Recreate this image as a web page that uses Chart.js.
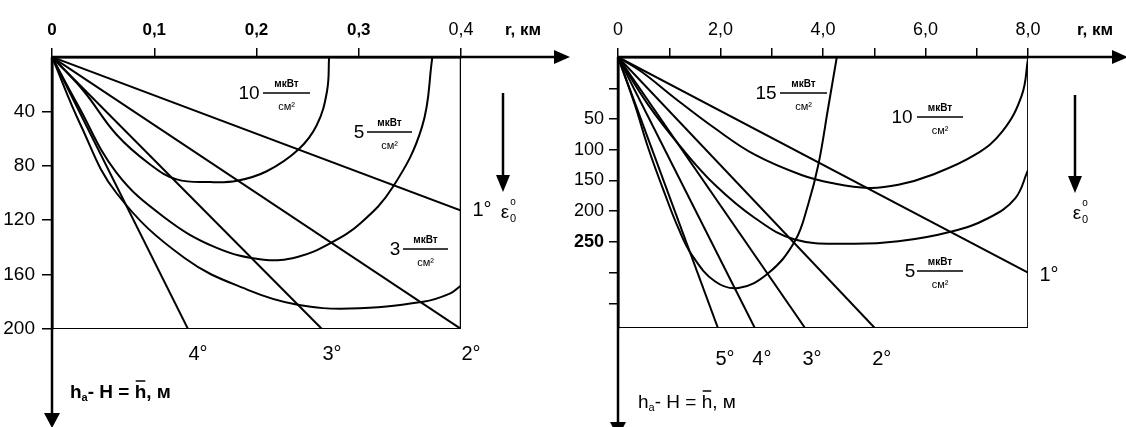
<!DOCTYPE html>
<html>
<head>
<meta charset="utf-8">
<script src="https://cdn.jsdelivr.net/npm/chart.js@4.4.1/dist/chart.umd.min.js"></script>
<style>
  html, body { margin: 0; padding: 0; background: #fff; }
  #wrap { position: relative; width: 1126px; height: 427px; overflow: hidden; }
  canvas { position: absolute; top: 0; }
</style>
</head>
<body>
<div id="wrap">
  <canvas id="left" width="580" height="427" style="left:0"></canvas>
  <canvas id="right" width="563" height="427" style="left:563px"></canvas>
</div>
<script>
// ---- left panel (r up to 0.4 km) ----
const leftRTicks = [0, 0.1, 0.2, 0.3, 0.4];
const leftHTicks = [40, 80, 120, 160, 200];
const leftAngles = ['1°', '2°', '3°', '4°'];
const leftRayEndR = [0.4, 0.4, 0.264, 0.133];
const leftRayEndH = [113, 200, 200, 200];
const leftLevels = ['10', '5', '3'];
const left10R = [0, 0.031, 0.063, 0.096, 0.122, 0.155, 0.181, 0.210, 0.241, 0.259, 0.269, 0.271];
const left10H = [0, 25, 57, 79, 90, 92, 91, 84, 68, 50, 25, 0];
const left5R = [0, 0.025, 0.063, 0.110, 0.160, 0.207, 0.240, 0.272, 0.302, 0.333, 0.362, 0.372];
const left5H = [0, 35, 85, 118, 140, 149, 147, 137, 122, 96, 51, 0];
const left3R = [0, 0.028, 0.063, 0.130, 0.194, 0.239, 0.291, 0.363, 0.389, 0.400];
const left3H = [0, 50, 100, 148, 172, 182, 185, 180, 174, 168];

// ---- right panel (r up to 8 km) ----
const rightRTicks = [0, 1, 2, 3, 4, 5, 6, 7, 8];
const rightHTicks = [0, 50, 100, 150, 200, 250, 300, 350];
const rightAngles = ['1°', '2°', '3°', '4°', '5°'];
const rightRayEndR = [8, 5.01, 3.65, 2.67, 1.95];
const rightRayEndH = [300, 390, 390, 390, 390];
const rightLevels = ['15', '10', '5'];
const right15R = [0, 0.33, 0.59, 0.92, 1.18, 1.44, 1.89, 2.35, 2.93, 3.45, 3.71, 3.91, 4.10, 4.27];
const right15H = [-51, 27, 97, 173, 228, 271, 314, 325, 301, 249, 189, 124, 32, -51];
const right10R = [0, 0.46, 1.11, 1.89, 2.67, 3.58, 4.17, 4.89, 5.47, 6.12, 6.97, 7.5, 7.88, 8.0];
const right10H = [-51, -27, 16, 65, 108, 141, 154, 162, 157, 141, 108, 70, 11, -48];
const right5R = [0, 0.59, 1.24, 1.89, 2.67, 3.45, 4.49, 5.47, 6.51, 7.23, 7.75, 8.0];
const right5H = [-51, 27, 97, 157, 211, 246, 253, 249, 233, 211, 179, 133];

const FONT = '"Liberation Sans", Arial, sans-serif';

function pts(rs, hs) { return rs.map((r, i) => ({ x: r, y: hs[i] })); }

function lineSet(data, w, tension) {
  return { data, showLine: true, borderColor: '#000', borderWidth: w, pointRadius: 0,
           pointHoverRadius: 0, tension: tension || 0, fill: false };
}

function kmLabel(v) {
  return v === 0 ? '0' : v.toFixed(1).replace('.', ',');
}

// arrows, unit labels, contour fractions, angle marks
function makeDeco(p) {
  return {
    id: 'deco',
    afterDraw(chart) {
      const { ctx, chartArea: a, scales: { x, y } } = chart;
      const d = p.deco;
      ctx.save();
      ctx.strokeStyle = '#000';
      ctx.fillStyle = '#000';

      // extended axes with arrowheads
      ctx.lineWidth = 2.5;
      ctx.beginPath();
      ctx.moveTo(a.left, a.top); ctx.lineTo(d.xTip - 10, a.top);
      ctx.moveTo(a.left, a.top); ctx.lineTo(a.left, d.yTip - 10);
      ctx.stroke();
      ctx.beginPath();
      ctx.moveTo(d.xTip, a.top); ctx.lineTo(d.xTip - 16, a.top - 7); ctx.lineTo(d.xTip - 16, a.top + 7);
      ctx.closePath(); ctx.fill();
      ctx.beginPath();
      ctx.moveTo(a.left, d.yTip); ctx.lineTo(a.left - 8, d.yTip - 15); ctx.lineTo(a.left + 8, d.yTip - 15);
      ctx.closePath(); ctx.fill();

      // epsilon arrow
      const e = d.eps;
      ctx.lineWidth = 2.5;
      ctx.beginPath(); ctx.moveTo(e.x, e.top); ctx.lineTo(e.x, e.tip - 12); ctx.stroke();
      ctx.beginPath();
      ctx.moveTo(e.x, e.tip); ctx.lineTo(e.x - 7, e.tip - 17); ctx.lineTo(e.x + 7, e.tip - 17);
      ctx.closePath(); ctx.fill();
      ctx.textAlign = 'center'; ctx.textBaseline = 'middle';
      ctx.font = '19px ' + FONT;
      ctx.fillText('ε', e.lx, e.ly);
      ctx.font = '10px ' + FONT;
      ctx.fillText('o', e.lx + 8, e.ly - 11);
      ctx.font = '11px ' + FONT;
      ctx.fillText('0', e.lx + 8, e.ly + 6);

      // r, km
      ctx.font = 'bold 17px ' + FONT;
      ctx.fillText('r, км', d.rx, d.ry);

      // h label: h_a - H = h(bar), м
      const f = (d.hBold ? 'bold ' : '') + '19px ' + FONT;
      const fs = (d.hBold ? 'bold ' : '') + '11px ' + FONT;
      let hx = d.hx;
      ctx.textAlign = 'left'; ctx.textBaseline = 'alphabetic';
      ctx.font = f; ctx.fillText('h', hx, d.hy); hx += ctx.measureText('h').width;
      ctx.font = fs; ctx.fillText('а', hx, d.hy + 3); hx += ctx.measureText('а').width;
      ctx.font = f; ctx.fillText('- H = ', hx, d.hy); hx += ctx.measureText('- H = ').width;
      const hw = ctx.measureText('h').width;
      ctx.fillText('h', hx, d.hy);
      ctx.lineWidth = 1.5;
      ctx.beginPath(); ctx.moveTo(hx + 1, d.hy - 17); ctx.lineTo(hx + hw - 1, d.hy - 17); ctx.stroke();
      hx += hw;
      ctx.fillText(', м', hx, d.hy);

      // contour fractions
      ctx.textBaseline = 'middle';
      p.levels.forEach((n, i) => {
        const c = d.fracs[i];
        ctx.textAlign = 'center';
        ctx.font = '19px ' + FONT;
        ctx.fillText(n, c.x, c.y + 1);
        ctx.lineWidth = 1.3;
        ctx.beginPath(); ctx.moveTo(c.l0, c.y); ctx.lineTo(c.l1, c.y); ctx.stroke();
        const mid = (c.l0 + c.l1) / 2;
        ctx.font = 'bold 10px ' + FONT;
        ctx.fillText('мкВт', mid, c.y - 8.5);
        ctx.font = '11px ' + FONT;
        ctx.fillText('см²', mid, c.y + 14);
      });

      // angle marks at ray ends
      ctx.font = '20px ' + FONT;
      ctx.textAlign = 'left';
      p.angles.forEach((lab, i) => {
        const r = p.rayEndR[i], h = p.rayEndH[i];
        let cx, cy;
        if (h >= p.hMax) { cx = x.getPixelForValue(r) + d.botDx; cy = a.bottom + d.botDy; }
        else { cx = a.right + 17; cy = y.getPixelForValue(h) + d.edgeDy; }
        const dw = ctx.measureText(lab[0]).width;
        ctx.fillText(lab, cx - dw / 2, cy);
      });
      ctx.restore();
    }
  };
}

function panel(id, p) {
  const datasets = [];
  p.rayEndR.forEach((r, i) => datasets.push(lineSet([{ x: 0, y: p.hMin }, { x: r, y: p.rayEndH[i] }], 2)));
  p.contours.forEach(c => datasets.push(lineSet(pts(c[0], c[1]), 2, 0.4)));
  datasets.push(lineSet([{ x: p.rMax, y: p.hMin }, { x: p.rMax, y: p.hMax }], p.edgeW));
  datasets.push(lineSet([{ x: 0, y: p.hMax }, { x: p.rMax, y: p.hMax }], 2));

  return new Chart(document.getElementById(id), {
    type: 'scatter',
    data: { datasets },
    options: {
      responsive: false,
      animation: false,
      devicePixelRatio: 1,
      events: [],
      layout: { padding: { left: 0, top: 0, right: p.padRight, bottom: p.padBottom } },
      plugins: { legend: { display: false }, tooltip: { enabled: false } },
      scales: {
        x: {
          type: 'linear', position: 'top', min: 0, max: p.rMax,
          afterBuildTicks: s => { s.ticks = p.rTicks.map(v => ({ value: v })); },
          afterFit: s => { s.height = p.top; },
          grid: { display: true, drawOnChartArea: false, drawTicks: true, tickLength: 9, color: '#000', lineWidth: 1.5 },
          border: { display: true, color: '#000', width: 2.5 },
          ticks: { autoSkip: false, maxRotation: 0, padding: 7, color: '#000',
                   font: p.rFont, callback: p.rCallback }
        },
        y: {
          type: 'linear', position: 'left', reverse: true, min: p.hMin, max: p.hMax,
          afterBuildTicks: s => { s.ticks = p.hTicks.map(v => ({ value: v })); },
          afterFit: s => { s.width = p.left; },
          grid: { display: true, drawOnChartArea: false, drawTicks: true, tickLength: p.yTick, color: '#000', lineWidth: 1.5 },
          border: { display: true, color: '#000', width: 2.5 },
          ticks: { autoSkip: false, padding: p.yPad, color: '#000',
                   font: p.hFont, callback: p.hCallback }
        }
      }
    },
    plugins: [makeDeco(p)]
  });
}

panel('left', {
  rMax: 0.4, hMin: 0, hMax: 200,
  rTicks: leftRTicks, hTicks: leftHTicks,
  angles: leftAngles, rayEndR: leftRayEndR, rayEndH: leftRayEndH,
  levels: leftLevels,
  contours: [[left10R, left10H], [left5R, left5H], [left3R, left3H]],
  edgeW: 2.5, top: 57, left: 52, padRight: 119, padBottom: 98, yTick: 10, yPad: 7,
  rFont: c => (c.tick && c.tick.value > 0.35) ? { family: FONT, size: 18 } : { family: FONT, size: 17, weight: 'bold' },
  rCallback: v => kmLabel(v),
  hFont: { family: FONT, size: 19 },
  hCallback: v => String(v),
  deco: {
    xTip: 570, yTip: 428,
    eps: { x: 503, top: 93, tip: 192, lx: 505, ly: 213 },
    rx: 523, ry: 30, hx: 70, hy: 398, hBold: true,
    fracs: [{ x: 249, y: 93, l0: 263, l1: 310 }, { x: 359, y: 132, l0: 367, l1: 412 }, { x: 395, y: 249, l0: 403, l1: 448 }],
    botDx: 6, botDy: 25, edgeDy: 0
  }
});

panel('right', {
  rMax: 8, hMin: -51, hMax: 390,
  rTicks: rightRTicks, hTicks: rightHTicks,
  angles: rightAngles, rayEndR: rightRayEndR, rayEndH: rightRayEndH,
  levels: rightLevels,
  contours: [[right15R, right15H], [right10R, right10H], [right5R, right5H]],
  edgeW: 1.8, top: 57, left: 55, padRight: 98, padBottom: 99, yTick: 9, yPad: 5,
  rFont: { family: FONT, size: 18 },
  rCallback: v => (v % 2 === 0 ? kmLabel(v) : ''),
  hFont: c => (c.tick && c.tick.value === 250) ? { family: FONT, size: 18, weight: 'bold' } : { family: FONT, size: 18 },
  hCallback: v => (v >= 50 && v <= 250 ? String(v) : ''),
  deco: {
    xTip: 565, yTip: 437,
    eps: { x: 512, top: 95, tip: 193, lx: 514, ly: 214 },
    rx: 532, ry: 30, hx: 75, hy: 408, hBold: false,
    fracs: [{ x: 203, y: 93, l0: 217, l1: 264 }, { x: 339, y: 117, l0: 354, l1: 400 }, { x: 347, y: 271, l0: 354, l1: 400 }],
    botDx: 3, botDy: 31, edgeDy: 3
  }
});
</script>
</body>
</html>
